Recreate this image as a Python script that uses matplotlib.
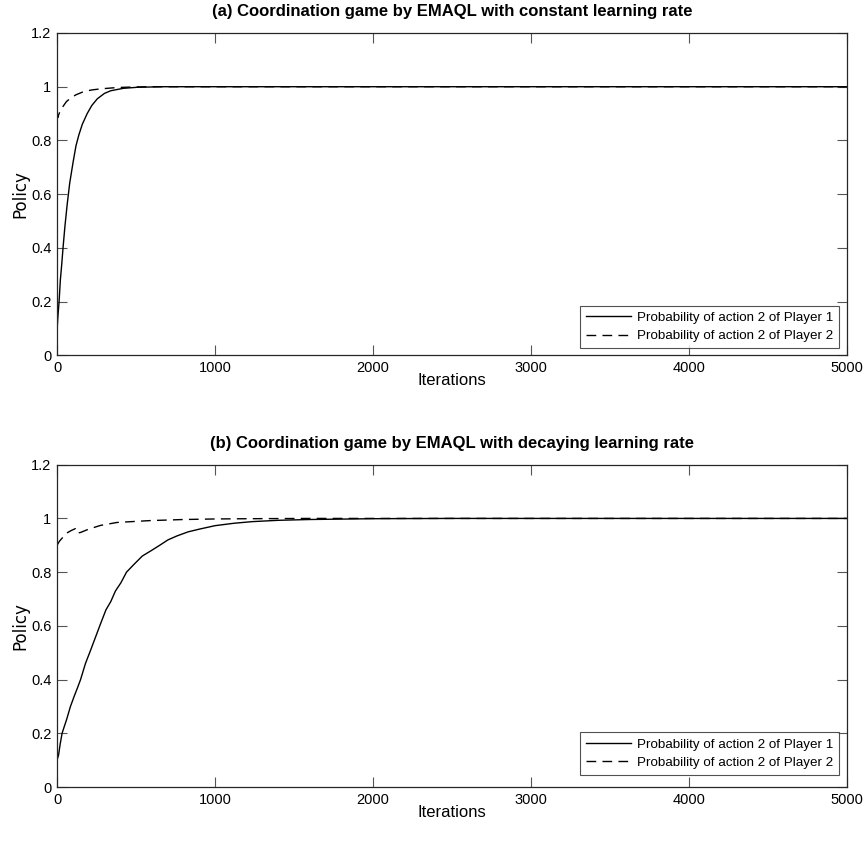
import matplotlib
matplotlib.use("Agg")
import matplotlib.pyplot as plt

plt.rcParams['font.family'] = ['Liberation Sans', 'DejaVu Sans']

# (a) constant learning rate
a_p1_iter = [0, 5, 13, 21, 30, 38, 50, 64, 80, 102, 120, 138, 160, 191, 220, 255, 300, 340, 420, 510, 600, 680, 800, 1000, 2000, 3000, 4000, 5000]
a_p1_val = [0.09, 0.14, 0.20, 0.28, 0.34, 0.40, 0.48, 0.56, 0.64, 0.72, 0.78, 0.82, 0.86, 0.90, 0.93, 0.955, 0.975, 0.985, 0.994, 0.998, 0.999, 1.0, 1.0, 1.0, 1.0, 1.0, 1.0, 1.0]
a_p2_iter = [0, 5, 10, 20, 30, 42, 60, 85, 120, 170, 220, 276, 380, 488, 600, 1000, 2000, 3000, 4000, 5000]
a_p2_val = [0.90, 0.885, 0.895, 0.91, 0.92, 0.93, 0.945, 0.957, 0.970, 0.982, 0.988, 0.992, 0.997, 0.999, 1.0, 1.0, 1.0, 1.0, 1.0, 1.0]

# (b) decaying learning rate
b_p1_iter = [0, 10, 20, 32, 43, 60, 85, 110, 130, 149, 180, 213, 245, 277, 310, 340, 370, 404, 440, 489, 540, 596, 650, 702, 760, 830, 900, 1000, 1120, 1234, 1400, 1600, 2000, 2500, 3000, 4000, 5000]
b_p1_val = [0.10, 0.12, 0.16, 0.20, 0.22, 0.25, 0.30, 0.34, 0.37, 0.40, 0.46, 0.51, 0.56, 0.61, 0.66, 0.69, 0.73, 0.76, 0.80, 0.83, 0.86, 0.88, 0.90, 0.92, 0.935, 0.95, 0.96, 0.973, 0.982, 0.988, 0.993, 0.996, 0.999, 1.0, 1.0, 1.0, 1.0]
b_p2_iter = [0, 15, 30, 60, 90, 116, 127, 150, 200, 275, 380, 500, 592, 700, 803, 1000, 1226, 1600, 2000, 3000, 4000, 5000]
b_p2_val = [0.90, 0.915, 0.925, 0.945, 0.955, 0.962, 0.945, 0.948, 0.960, 0.974, 0.985, 0.989, 0.992, 0.994, 0.996, 0.998, 0.999, 1.0, 1.0, 1.0, 1.0, 1.0]

titles = ['(a) Coordination game by EMAQL with constant learning rate',
          '(b) Coordination game by EMAQL with decaying learning rate']
legend_labels = ['Probability of action 2 of Player 1', 'Probability of action 2 of Player 2']
xticks = [0, 1000, 2000, 3000, 4000, 5000]
yticks = [0, 0.2, 0.4, 0.6, 0.8, 1, 1.2]

fig = plt.figure(figsize=(8.64, 8.46), dpi=100)
ax_a = fig.add_axes([0.066, 0.580, 0.914, 0.381])
ax_b = fig.add_axes([0.066, 0.0697, 0.914, 0.381])

panels = [(ax_a, a_p1_iter, a_p1_val, a_p2_iter, a_p2_val, (0.99, 0.022)),
          (ax_b, b_p1_iter, b_p1_val, b_p2_iter, b_p2_val, (0.99, 0.037))]

for (ax, x1, y1, x2, y2, anchor), title in zip(panels, titles):
    ax.plot(x1, y1, color='black', lw=1.0, label=legend_labels[0])
    ax.plot(x2, y2, color='black', lw=1.0, ls=(0, (7, 4.5)), label=legend_labels[1])
    ax.set_xlim(0, 5000)
    ax.set_ylim(0, 1.2)
    ax.set_xticks(xticks)
    ax.set_yticks(yticks)
    ax.set_yticklabels(['0', '0.2', '0.4', '0.6', '0.8', '1', '1.2'])
    ax.tick_params(direction='in', length=7, width=0.8, color='#555555',
                   top=True, right=True, labelsize=10.5, pad=4)
    for s in ax.spines.values():
        s.set_color('#262626')
        s.set_linewidth(0.9)
    ax.set_title(title, fontsize=12, fontweight='bold', pad=12)
    ax.set_xlabel('Iterations', fontsize=12, labelpad=-1)
    ax.set_ylabel('Policy', fontsize=12, family=['DejaVu Sans'], labelpad=1)
    leg = ax.legend(loc='lower right', bbox_to_anchor=anchor, fontsize=9.6,
                    frameon=True, fancybox=False, handlelength=3.4,
                    handletextpad=0.4, borderpad=0.45, labelspacing=0.45,
                    borderaxespad=0)
    leg.get_frame().set_edgecolor('#262626')
    leg.get_frame().set_linewidth(0.8)

fig.savefig('out.png', dpi=100)
